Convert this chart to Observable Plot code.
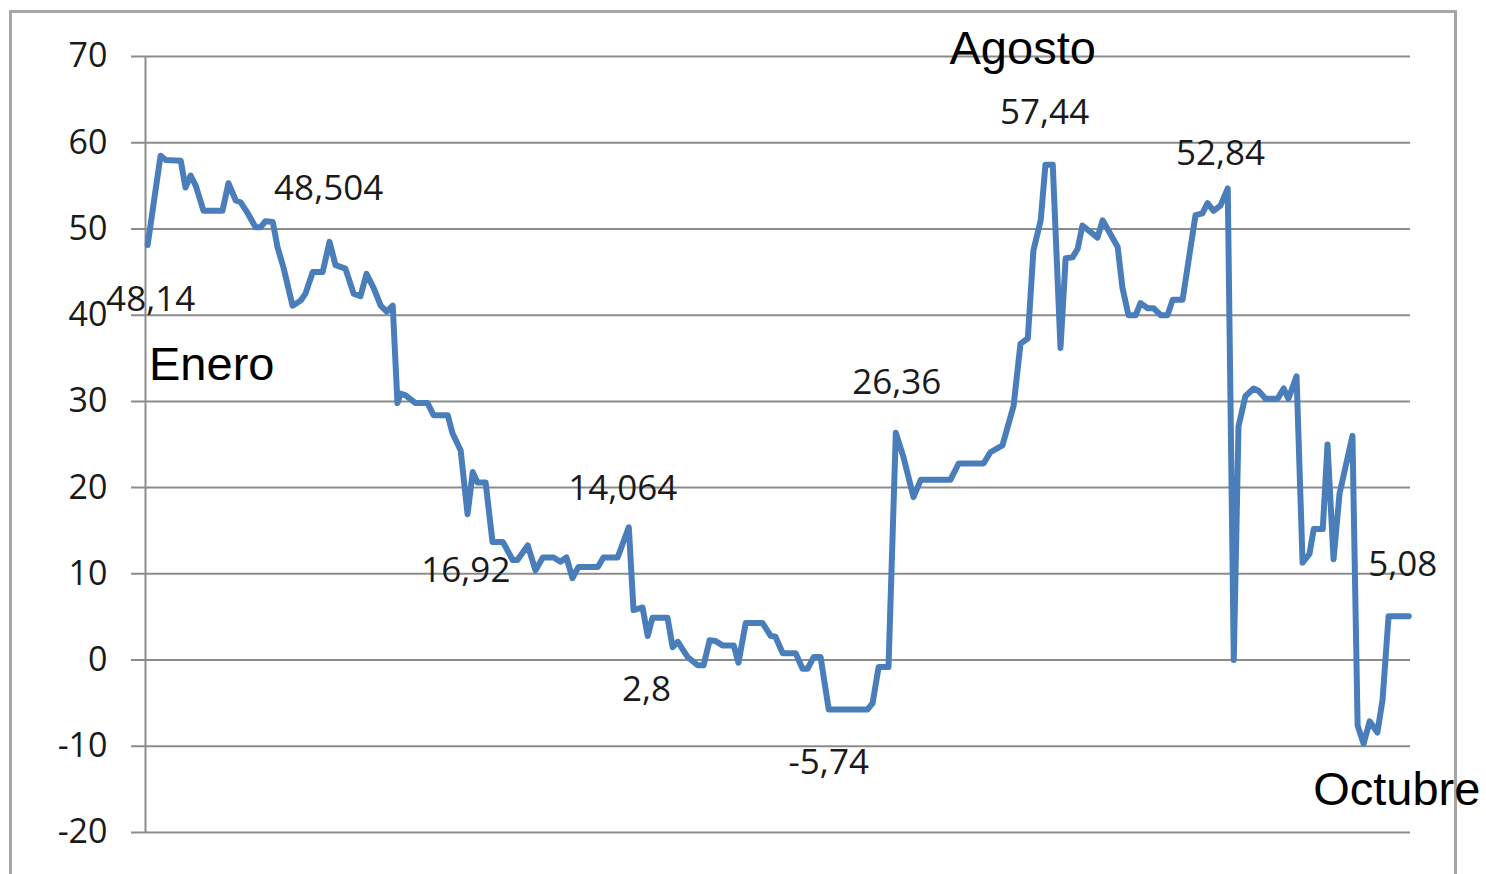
<!DOCTYPE html>
<html>
<head>
<meta charset="utf-8">
<script src="https://cdn.jsdelivr.net/npm/d3@7"></script>
<script src="https://cdn.jsdelivr.net/npm/@observablehq/plot@0.6"></script>
<style>
  html, body { margin: 0; padding: 0; background: #fff; overflow: hidden; }
  #wrap { position: relative; width: 1486px; height: 874px; }
  #frame { position: absolute; left: 9px; top: 10px; width: 1448px; height: 880px; border: 3px solid #a6a6a6; box-sizing: border-box; }
  #chart { position: absolute; left: 0; top: 0; }
</style>
</head>
<body>
<div id="wrap"><div id="frame"></div><div id="chart"></div></div>
<script>
// Series: day index (from start of January) and value
const days = [0, 3.0, 4.2, 7.7, 8.8, 10.0, 11.2, 13.0, 17.4, 18.8, 20.5, 21.6, 23.3, 25.1, 26.3, 27.4, 29.1, 30.2, 31.6, 33.7, 35.6, 36.7, 38.4, 40.7, 42.3, 43.7, 46.0, 47.9, 49.5, 50.9, 52.6, 54.2, 55.6, 57.0,
  58.1, 58.8, 60.0, 62.3, 65.1, 66.5, 69.8, 70.9, 72.8, 74.4, 75.6, 76.7, 78.6, 80.2, 82.6, 84.9, 86.0, 88.4, 90.2, 91.9, 94.4, 96.0, 97.4, 98.8, 100.2, 104.7, 106.0, 109.3, 111.9,
  113.0, 115.1, 116.3, 117.4, 120.9, 122.1, 123.3, 125.6, 127.9, 129.3, 130.7, 132.1, 133.7, 136.3, 137.4, 139.1, 143.0, 144.9, 146.0, 147.7, 150.7, 152.3, 153.5, 154.9, 156.5, 158.4, 167.4, 168.6, 170.0, 172.3,
  174.0, 175.8, 178.1, 179.8, 186.7, 188.6, 194.4, 196.0, 198.8, 201.4, 203.0, 204.7, 206.0, 207.7, 208.8, 210.5, 212.3, 213.5, 215.1, 216.3, 217.4, 220.9, 222.1, 225.6, 226.7, 228.1, 229.8, 230.9, 232.6, 234.0, 235.6, 237.2, 238.4, 240.7, 243.7, 245.3, 246.5, 247.9, 249.5, 251.2,
  252.6, 253.7, 255.3, 257.2, 258.4, 260.0, 262.8, 264.2, 265.3, 267.2, 268.6, 270.2, 271.2, 273.3, 274.4, 275.8, 277.2, 280.2, 281.4, 282.8, 284.2, 286.0, 287.2, 288.6, 293.3];
const values = [48.14, 58.5, 58.0, 57.9, 54.8, 56.2, 55.0, 52.1, 52.1, 55.3, 53.3, 53.1, 51.8, 50.2, 50.2, 50.9, 50.8, 47.9, 45.5, 41.1, 41.7, 42.5, 45.0, 45.0, 48.504, 45.8, 45.4, 42.5, 42.2, 44.8, 43.1, 41.1, 40.4, 41.1,
  29.8, 30.9, 30.7, 29.8, 29.8, 28.4, 28.4, 26.3, 24.3, 16.92, 21.8, 20.6, 20.6, 13.7, 13.7, 11.6, 11.6, 13.3, 10.4, 11.9, 11.9, 11.4, 11.9, 9.5, 10.8, 10.8, 11.9, 11.9, 15.4,
  5.8, 6.1, 2.8, 4.9, 4.9, 1.5, 2.1, 0.35, -0.6, -0.6, 2.3, 2.2, 1.7, 1.7, -0.3, 4.3, 4.3, 2.8, 2.7, 0.8, 0.8, -1.0, -1.0, 0.35, 0.35, -5.74, -5.74, -5.0, -0.8, -0.8,
  26.36, 23.5, 18.9, 20.9, 20.9, 22.8, 22.8, 24.1, 24.9, 29.5, 36.7, 37.3, 47.5, 51.0, 57.44, 57.44, 36.2, 46.6, 46.7, 47.7, 50.4, 49.0, 51.0, 47.9, 43.2, 40.0, 40.0, 41.4, 40.8, 40.8, 40.0, 40.0, 41.8, 41.8, 51.6, 51.8, 53.0, 52.1, 52.7, 54.7,
  0, 27.1, 30.6, 31.5, 31.2, 30.3, 30.3, 31.5, 30.3, 32.9, 11.3, 12.3, 15.2, 15.2, 25.0, 11.7, 19.3, 26.0, -7.6, -9.7, -7.1, -8.4, -4.6, 5.08, 5.08];

// Y axis ticks
const yTicks = [70, 60, 50, 40, 30, 20, 10, 0, -10, -20];

// Value annotations
const valueLabels = ["48,14", "48,504", "16,92", "14,064", "2,8", "-5,74", "26,36", "57,44", "52,84", "5,08"];
const valueLabelDays = [0.7, 42.1, 74.0, 110.5, 116.0, 158.4, 174.2, 208.6, 249.5, 291.9];
const valueLabelValues = [41.8, 54.6, 10.4, 19.9, -3.5, -11.9, 32.2, 63.5, 58.7, 11.0];

// Month annotations
const monthLabels = ["Enero", "Agosto", "Octubre"];
const monthLabelDays = [14.9, 203.5, 290.5];
const monthLabelValues = [34.2, 70.9, -15.1];

const series = days.map((d, i) => ({day: d, value: values[i]}));
const vLabels = valueLabels.map((t, i) => ({t, day: valueLabelDays[i], value: valueLabelValues[i]}));
const mLabels = monthLabels.map((t, i) => ({t, day: monthLabelDays[i], value: monthLabelValues[i]}));

const chart = Plot.plot({
  width: 1486,
  height: 874,
  marginLeft: 145,
  marginRight: 76,
  marginTop: 56,
  marginBottom: 42,
  style: {background: "transparent", fontFamily: "'Open Sans', sans-serif", overflow: "visible"},
  x: {domain: [-0.5, 293.7], axis: null},
  y: {domain: [-20, 70], ticks: yTicks},
  marks: [
    Plot.ruleY(yTicks, {stroke: "#8c8c8c", strokeWidth: 2, insetLeft: -14}),
    Plot.ruleX([-0.5], {stroke: "#8c8c8c", strokeWidth: 2}),
    Plot.axisY({ticks: yTicks, tickSize: 0, tickPadding: 38, fontSize: 34, fill: "#1a1a1a", label: null, tickFormat: d => String(d)}),
    Plot.line(series, {x: "day", y: "value", stroke: "#4a7ebb", strokeWidth: 6, strokeLinejoin: "round", strokeLinecap: "round"}),
    Plot.text(vLabels, {x: "day", y: "value", text: "t", fontSize: 35, fill: "#1a1a1a", fontFamily: "'Open Sans', sans-serif"}),
    Plot.text(mLabels, {x: "day", y: "value", text: "t", fontSize: 47, fill: "#000", fontFamily: "'Liberation Sans', Arial, sans-serif"})
  ]
});
document.getElementById("chart").appendChild(chart);
</script>
</body>
</html>
